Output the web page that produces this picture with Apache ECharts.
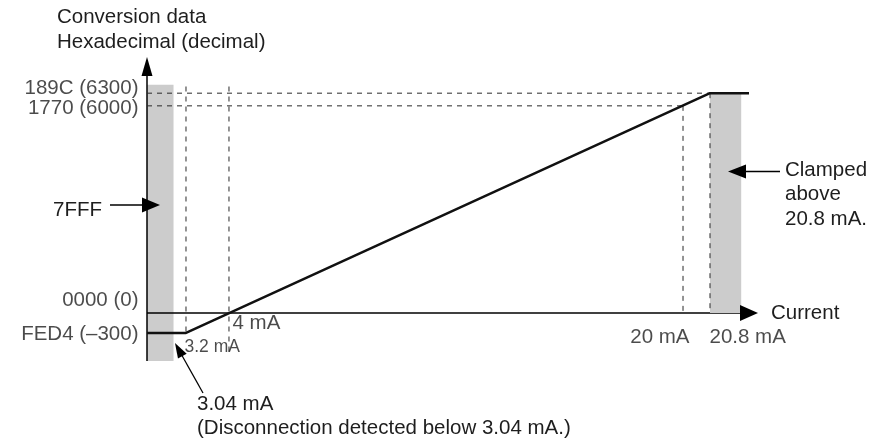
<!DOCTYPE html>
<html><head><meta charset="utf-8">
<script src="https://cdn.jsdelivr.net/npm/echarts@6/dist/echarts.min.js"></script>
<style>html,body{margin:0;padding:0;background:#fff}#c{width:879px;height:444px}</style>
</head><body><div id="c"></div>
<script>
// ---------------- data ----------------
const axisMinMA = 2.7, axisMaxMA = 21.3;          // drawn x-range (mA)
const axisMinVal = -720, axisMaxVal = 6700;       // drawn y-range (decimal)
const currentMA  = [2.7, 3.2, 20.8, 21.3];        // conversion curve x (mA)
const conversion = [-300, -300, 6300, 6300];      // conversion curve y (decimal)
const yTickValues = [6300, 6000, 0, -300];
const yTickLabels = ['189C (6300)', '1770 (6000)', '0000 (0)', 'FED4 (\u2013300)'];
const xMarkValues = [4, 3.2, 20, 20.8];
const xMarkLabels = ['4 mA', '3.2 mA', '20 mA', '20.8 mA'];
const disconnectMA = 3.04;
const clampMA = 20.8, clampBandEndMA = 21.2;
const leftBandTop = 6425;
const guideH = [[6300, 2.7, 20.8], [6000, 2.7, 20]];              // [y, x0, x1]
const guideV = [[3.2, 6400, -300], [4, 6400, -650], [20, 6000, 0], [20.8, 6300, 0]]; // [x, y0, y1]

// ---------------- layout / style ----------------
const FONT = '"Liberation Sans", Arial, Helvetica, sans-serif';
const TXT = '#1e1e1e';
const FS = 20.5;
const yLabelOffsets = [-4, 3, -12.5, 2];
const xLabelLayout = [ // [dx, dy, align, fontSize, anchorY]
  [4, 11, 'left', FS, 0],
  [-1, 15, 'left', 17.5, -300],
  [7, 25, 'right', FS, 0],
  [0, 25, 'left', FS, 0]
];

const chart = echarts.init(document.getElementById('c'), null, {renderer: 'canvas'});

const dashStyle = {color: '#2a2a2a', width: 1, type: [5, 5]};
const axisStyle = {color: '#000', width: 1.5};
const series = [];

// left gray band (disconnection -> 7FFF)
series.push({
  type: 'line', data: [], silent: true, z: 1,
  markArea: {silent: true, z: 1, itemStyle: {color: '#cccccc'},
    data: [[{coord: [axisMinMA, leftBandTop]}, {coord: [disconnectMA, axisMinVal]}]]}
});
// axis lines
series.push({
  type: 'line', silent: true, z: 3, symbol: 'none', lineStyle: axisStyle,
  data: [[axisMinMA, 0], [axisMaxMA, 0]]
});
series.push({
  type: 'line', silent: true, z: 3, symbol: 'none', lineStyle: axisStyle,
  data: [[axisMinMA, axisMinVal], [axisMinMA, axisMaxVal]]
});
// right gray band (clamped)
series.push({
  type: 'line', data: [], silent: true, z: 4,
  markArea: {silent: true, z: 4, itemStyle: {color: '#cccccc'},
    data: [[{coord: [clampMA, conversion[2]]}, {coord: [clampBandEndMA, 0]}]]}
});
// dashed guides
guideH.forEach(g => series.push({
  type: 'line', silent: true, z: 5, symbol: 'none',
  lineStyle: dashStyle, data: [[g[1], g[0]], [g[2], g[0]]]
}));
guideV.forEach(g => series.push({
  type: 'line', silent: true, z: 5, symbol: 'none',
  lineStyle: dashStyle, data: [[g[0], g[1]], [g[0], g[2]]]
}));
// conversion curve
series.push({
  type: 'line', silent: true, z: 6, symbol: 'none',
  lineStyle: {color: '#111', width: 2.5},
  data: currentMA.map((x, i) => [x, conversion[i]])
});
// y tick labels
series.push({
  type: 'scatter', silent: true, z: 7, symbolSize: 1, itemStyle: {color: 'rgba(0,0,0,0)'},
  data: yTickValues.map((v, i) => ({
    value: [axisMinMA, v],
    label: {show: true, formatter: yTickLabels[i], position: [-8, yLabelOffsets[i]],
      align: 'right', verticalAlign: 'middle', color: TXT, fontSize: FS, fontFamily: FONT}
  }))
});
// x mark labels
series.push({
  type: 'scatter', silent: true, z: 7, symbolSize: 1, itemStyle: {color: 'rgba(0,0,0,0)'},
  data: xMarkValues.map((v, i) => ({
    value: [v, xLabelLayout[i][4]],
    label: {show: true, formatter: xMarkLabels[i], position: [xLabelLayout[i][0], xLabelLayout[i][1]],
      align: xLabelLayout[i][2], verticalAlign: 'middle', color: TXT, fontSize: xLabelLayout[i][3], fontFamily: FONT}
  }))
});

function arrow(x1, y1, x2, y2, len, w, lw) {
  const a = Math.atan2(y2 - y1, x2 - x1);
  const bx = x2 - len * Math.cos(a), by = y2 - len * Math.sin(a);
  const px = -Math.sin(a) * w / 2, py = Math.cos(a) * w / 2;
  const out = [{type: 'polygon', silent: true, z: 20, shape: {points: [[x2, y2], [bx + px, by + py], [bx - px, by - py]]}, style: {fill: '#000'}}];
  if (lw > 0) out.unshift({type: 'line', silent: true, z: 20, shape: {x1: x1, y1: y1, x2: bx + Math.cos(a), y2: by + Math.sin(a)}, style: {stroke: '#000', lineWidth: lw}});
  return out;
}
function text(x, y, str, align, va, fs) {
  return {type: 'text', silent: true, z: 20, x: x, y: y,
    style: {text: str, fill: TXT, fontSize: fs || FS, fontFamily: FONT, align: align, verticalAlign: va, lineHeight: 24.5}};
}

chart.setOption({
  animation: false,
  backgroundColor: '#ffffff',
  textStyle: {fontFamily: FONT},
  grid: {left: 147, right: 130, top: 66.5, bottom: 83, containLabel: false, outerBoundsMode: 'none'},
  xAxis: {
    type: 'value', min: axisMinMA, max: axisMaxMA,
    name: 'Current', nameLocation: 'end', nameGap: 22,
    nameTextStyle: {color: TXT, fontSize: FS, fontFamily: FONT, verticalAlign: 'middle', padding: [2, 0, 0, 0]},
    breaks: [
      {start: 3.25, end: 3.95, gap: 0.451},
      {start: 4.05, end: 19.95, gap: 5.721},
      {start: 20.05, end: 20.75, gap: 0.246}
    ],
    breakArea: {show: false},
    axisLine: {show: false, onZero: true},
    axisTick: {show: false}, axisLabel: {show: false}, splitLine: {show: false}
  },
  yAxis: {
    type: 'value', min: axisMinVal, max: axisMaxVal,
    breaks: [
      {start: 100, end: 5900, gap: 2905},
      {start: 6050, end: 6250, gap: 90}
    ],
    breakArea: {show: false},
    axisLine: {show: false, onZero: false},
    axisTick: {show: false}, axisLabel: {show: false}, splitLine: {show: false}
  },
  series: series
});

// axis arrowheads anchored at the axis ends, and annotations
const xEnd = chart.convertToPixel({gridIndex: 0}, [axisMaxMA, 0]);
const yEnd = chart.convertToPixel({gridIndex: 0}, [axisMinMA, axisMaxVal]);
const graphic = [].concat(
  arrow(xEnd[0], xEnd[1], xEnd[0] + 9, xEnd[1], 18, 16, 0),
  arrow(yEnd[0], yEnd[1], yEnd[0], yEnd[1] - 9.5, 19, 11, 0),
  [text(102, 210, '7FFF', 'right', 'middle')],
  arrow(110, 205, 160, 205, 18, 15, 1.3),
  [text(785, 158, 'Clamped\nabove\n20.8 mA.', 'left', 'top')],
  arrow(780, 171.5, 728, 171.5, 18, 14, 1.3),
  arrow(203, 393, 175, 343, 15, 10, 1.3),
  [text(197, 392, '3.04 mA\n(Disconnection detected below 3.04 mA.)', 'left', 'top')],
  [text(57, 5.5, 'Conversion data\nHexadecimal (decimal)', 'left', 'top')]
);
chart.setOption({graphic: graphic});
</script>
</body></html>
